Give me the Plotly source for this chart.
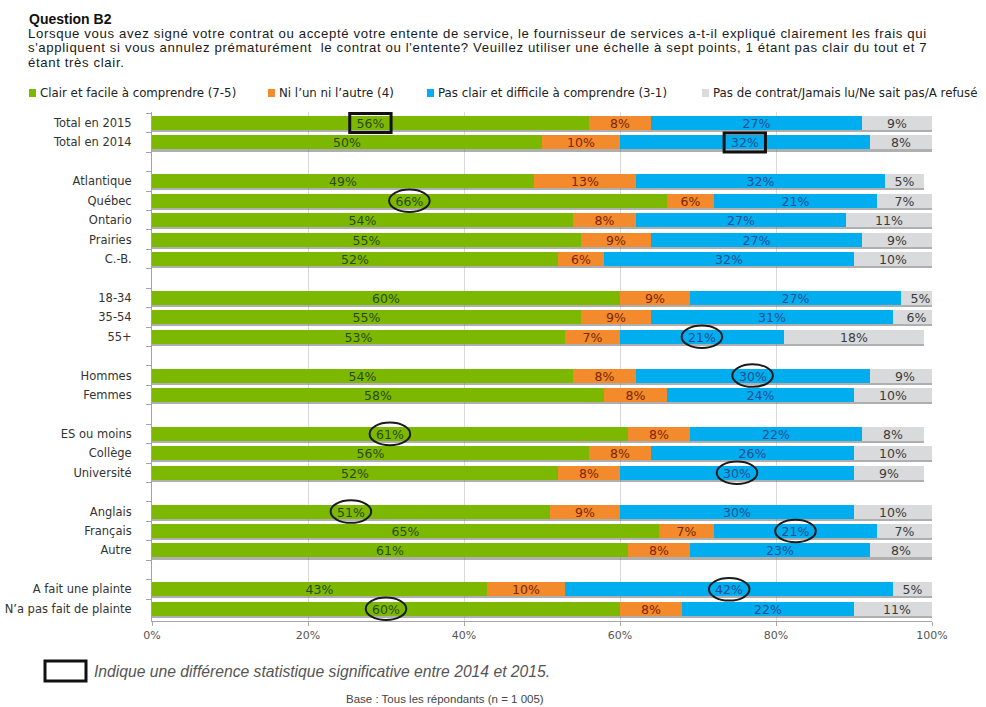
import plotly.graph_objects as go

# ---- data -------------------------------------------------------------
groups = [
    ["Total en 2015", "Total en 2014"],
    ["Atlantique", "Québec", "Ontario", "Prairies", "C.-B."],
    ["18-34", "35-54", "55+"],
    ["Hommes", "Femmes"],
    ["ES ou moins", "Collège", "Université"],
    ["Anglais", "Français", "Autre"],
    ["A fait une plainte", "N’a pas fait de plainte"],
]
clair = [56, 50, 49, 66, 54, 55, 52, 60, 55, 53, 54, 58, 61, 56, 52, 51, 65, 61, 43, 60]
ni_lun = [8, 10, 13, 6, 8, 9, 6, 9, 9, 7, 8, 8, 8, 8, 8, 9, 7, 8, 10, 8]
pas_clair = [27, 32, 32, 21, 27, 27, 32, 27, 31, 21, 30, 24, 22, 26, 30, 30, 21, 23, 42, 22]
pas_contrat = [9, 8, 5, 7, 11, 9, 10, 5, 6, 18, 9, 10, 8, 10, 9, 10, 7, 8, 5, 11]

series_names = [
    "Clair et facile à comprendre (7-5)",
    "Ni l’un ni l’autre (4)",
    "Pas clair et difficile à comprendre (3-1)",
    "Pas de contrat/Jamais lu/Ne sait pas/A refusé",
]
tick_values = [0, 20, 40, 60, 80, 100]
tick_labels = ["0%", "20%", "40%", "60%", "80%", "100%"]

# significant 2014/2015 differences (boxed) and subgroup differences (circled)
boxed = [("Total en 2015", 0), ("Total en 2014", 2)]
circled = [("Québec", 0), ("55+", 2), ("Hommes", 2), ("ES ou moins", 0),
           ("Université", 2), ("Anglais", 0), ("Français", 2),
           ("A fait une plainte", 2), ("N’a pas fait de plainte", 0)]

# ---- styling ------------------------------------------------------------
colors = ["#7cb800", "#f38a2c", "#00adef", "#d9dadc"]
text_colors = ["#2b4a0a", "#7a2600", "#1d4f8f", "#3a3a3a"]
LABEL_FONT = "DejaVu Sans"

# ---- rows: categories with blank spacer rows between groups -------------
rows = []
for gi, g in enumerate(groups):
    if gi > 0:
        rows.append(" " * gi)
    rows.extend(g)
labels = [c for g in groups for c in g]
series = [clair, ni_lun, pas_clair, pas_contrat]
lookup = {c: i for i, c in enumerate(labels)}


def col(values):
    return [values[lookup[r]] if r in lookup else None for r in rows]


cols = [col(s) for s in series]
bases = []
for k in range(4):
    b = []
    for ri in range(len(rows)):
        if cols[0][ri] is None:
            b.append(None)
        else:
            b.append(sum(cols[j][ri] for j in range(k)))
    bases.append(b)
totals = [None if cols[0][i] is None else sum(c[i] for c in cols) for i in range(len(rows))]

BAR_W = 0.72
fig = go.Figure()

# soft drop shadow under each stacked bar
fig.add_trace(go.Bar(
    y=rows, x=totals, base=0, orientation="h", width=BAR_W,
    offset=-BAR_W / 2 + 0.11,
    marker=dict(color="rgba(110,110,110,0.55)", line=dict(width=0)),
    hoverinfo="skip", showlegend=False,
))

for k in range(4):
    fig.add_trace(go.Bar(
        y=rows, x=cols[k], base=bases[k], orientation="h", width=BAR_W,
        offset=-BAR_W / 2,
        name=series_names[k],
        marker=dict(color=colors[k], line=dict(width=0)),
        text=["" if v is None else f"{v}%" for v in cols[k]],
        textposition="inside", insidetextanchor="middle", textangle=0,
        textfont=dict(family=LABEL_FONT, size=12.5, color=text_colors[k]),
        constraintext="none",
        showlegend=False,
    ))

# boxes and circles around highlighted values
shapes = []
for cat, k in boxed:
    i = lookup[cat]
    ri = rows.index(cat)
    cx = sum(series[j][i] for j in range(k)) + series[k][i] / 2
    shapes.append(dict(type="rect", xref="x", yref="y",
                       x0=cx - 2.65, x1=cx + 2.65, y0=ri - 0.49, y1=ri + 0.49,
                       line=dict(color="#111111", width=3)))
for cat, k in circled:
    i = lookup[cat]
    ri = rows.index(cat)
    cx = sum(series[j][i] for j in range(k)) + series[k][i] / 2
    shapes.append(dict(type="circle", xref="x", yref="y",
                       x0=cx - 2.6, x1=cx + 2.6, y0=ri - 0.58, y1=ri + 0.58,
                       line=dict(color="#1a1a1a", width=2)))

# ---- page layout helpers (pixel -> paper) --------------------------------
W, H = 986, 707
L, R, T, B = 152, 932, 112, 621


def px(x):
    return (x - L) / (R - L)


def py(y):
    return (B - y) / (B - T)


annotations = []
annotations.append(dict(text="<b>Question B2</b>", x=px(27), y=py(19),
                        font=dict(family="Liberation Sans", size=14, color="#111111")))
question_lines = [
    "Lorsque vous avez signé votre contrat ou accepté votre entente de service, le fournisseur de services a-t-il expliqué clairement les frais qui",
    "s'appliquent si vous annulez prématurément  le contrat ou l'entente? Veuillez utiliser une échelle à sept points, 1 étant pas clair du tout et 7",
    "étant très clair.",
]
for li, line in enumerate(question_lines):
    annotations.append(dict(text=f"<span style='letter-spacing:0.63px'>{line}</span>",
                            x=px(27), y=py(33.5 + li * 14.5), borderpad=0,
                            font=dict(family="Liberation Sans", size=13.2, color="#1a1a1a")))

# legend row
legend_x = [29, 268, 427, 702]
for k in range(4):
    shapes.append(dict(type="rect", xref="paper", yref="paper",
                       x0=px(legend_x[k]), x1=px(legend_x[k] + 7),
                       y0=py(97), y1=py(89),
                       fillcolor=colors[k], line=dict(width=0)))
    annotations.append(dict(text=series_names[k], x=px(legend_x[k] + 9), y=py(93),
                            font=dict(family=LABEL_FONT, size=11.8, color="#222222")))

# footnotes
shapes.append(dict(type="rect", xref="paper", yref="paper",
                   x0=px(45), x1=px(86), y0=py(681), y1=py(661),
                   line=dict(color="#111111", width=3)))
annotations.append(dict(text="<i>Indique une différence statistique significative entre 2014 et 2015.</i>",
                        x=px(92), y=py(671),
                        font=dict(family="Liberation Sans", size=15.7, color="#555555")))
annotations.append(dict(text="Base : Tous les répondants (n = 1 005)",
                        x=px(445), y=py(699), xanchor="center",
                        font=dict(family="Liberation Sans", size=11.5, color="#444444")))

for a in annotations:
    a.setdefault("xanchor", "left")
    a.update(xref="paper", yref="paper", yanchor="middle", showarrow=False)

fig.update_layout(
    width=W, height=H,
    margin=dict(l=L, r=W - R, t=T, b=H - B, pad=0),
    paper_bgcolor="white", plot_bgcolor="white",
    barmode="overlay", bargap=0,
    shapes=shapes, annotations=annotations,
    showlegend=False,
    uniformtext=dict(minsize=12, mode="show"),
)
fig.update_xaxes(
    range=[0, 100], tickvals=tick_values, ticktext=tick_labels,
    showgrid=True, gridcolor="#d9d9d9", gridwidth=1, zeroline=False,
    showline=True, linecolor="#a8a8a8", linewidth=1,
    ticks="outside", ticklen=4, tickcolor="#a8a8a8",
    tickfont=dict(family=LABEL_FONT, size=11, color="#555555"),
    automargin=False, fixedrange=True,
)
fig.update_yaxes(
    type="category", categoryorder="array", categoryarray=rows,
    autorange="reversed",
    showline=True, linecolor="#9aa6b8", linewidth=1,
    ticks="outside", tickson="boundaries", ticklen=5, tickcolor="#9aa6b8",
    ticklabelstandoff=17,
    tickfont=dict(family=LABEL_FONT, size=11.5, color="#333333"),
    showgrid=False, zeroline=False, automargin=False, fixedrange=True,
)

fig.write_html("out.html")
